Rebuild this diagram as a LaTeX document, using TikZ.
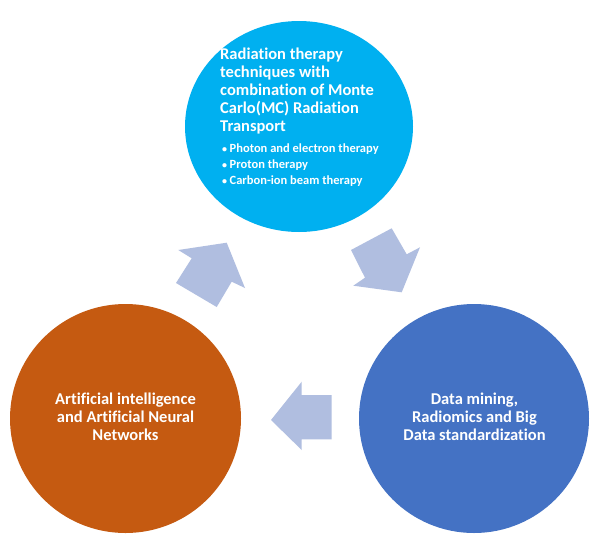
\documentclass[tikz,border=0pt]{standalone}
\usepackage{fontspec}
\setmainfont{Carlito}[Ligatures=NoCommon]
\usetikzlibrary{shapes.geometric}
\definecolor{topblue}{HTML}{00B0F0}
\definecolor{rust}{HTML}{C55A11}
\definecolor{midblue}{HTML}{4472C4}
\definecolor{arrowfill}{HTML}{B0BEE0}
\newcommand{\bulletmark}{\makebox[7.5pt][l]{\fontsize{10}{10}\selectfont•}}
\begin{document}
\begin{tikzpicture}[x=1pt,y=-1pt,
  label/.style={text=white, font=\bfseries\fontsize{16.5}{18}\selectfont, inner sep=0pt},
  smalllabel/.style={text=white, font=\bfseries\fontsize{12.5}{16}\selectfont, inner sep=0pt},
  flowarrow/.style={fill=arrowfill, draw=none}]
\path[use as bounding box] (0,0) rectangle (600,536);
\fill[white] (0,0) rectangle (600,536);
% circles
\fill[topblue] (299,126.5) ellipse [x radius=114, y radius=105.5];
\fill[rust] (125.5,418.5) ellipse [x radius=115.5, y radius=114.5];
\fill[midblue] (474,418.5) ellipse [x radius=115, y radius=114.5];
% texts
\node[label, align=left, anchor=north west] (toptitle) at (220,47.5)
  {Radiation therapy\\techniques with\\combination of Monte\\Carlo(MC) Radiation\\Transport};
\node[smalllabel, align=left, anchor=north west] (topbullets) at (222,144)
  {\bulletmark Photon and electron therapy\\\bulletmark Proton therapy\\\bulletmark Carbon-ion beam therapy};
\node[label, align=center] (lefttext) at (125.5,417)
  {Artificial intelligence\\and Artificial Neural\\Networks};
\node[label, align=center] (righttext) at (474.5,417)
  {Data mining,\\Radiomics and Big\\Data standardization};
% arrows
\fill[flowarrow] (226.7,242.7) -- (245,288) -- (231.7,281.7) -- (216.7,307) -- (176,283) -- (191.7,258.3) -- (178.3,250) -- cycle;
\fill[flowarrow] (391.7,228.3) -- (351,250) -- (365,277.7) -- (353.3,285.7) -- (401.7,292.3) -- (420,247.3) -- (406.7,254.3) -- cycle;
\fill[flowarrow] (271,420) -- (301.7,381.7) -- (301.7,395) -- (331.7,395) -- (331.7,439.3) -- (301.7,439.3) -- (301.7,450) -- cycle;
\end{tikzpicture}
\end{document}
